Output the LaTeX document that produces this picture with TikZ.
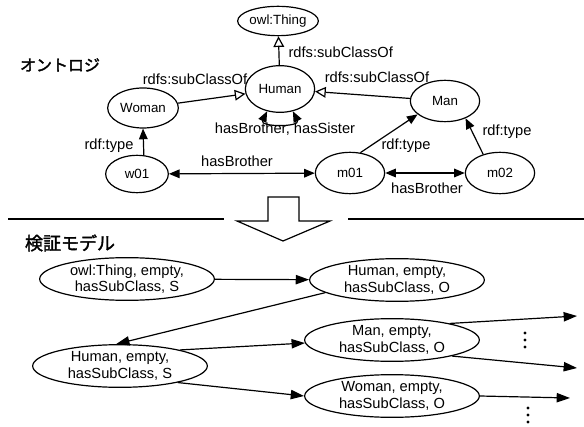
\documentclass[tikz,border=0pt]{standalone}
\usepackage{fontspec}
\setmainfont{Liberation Sans}
\newfontfamily\jpfont[AutoFakeBold=2]{Noto Sans CJK JP}
\usetikzlibrary{arrows.meta,shapes.geometric}
\tikzset{
  cls/.style={ellipse, draw, line width=0.9pt, inner sep=0pt, font=\fontsize{10}{12}\selectfont},
  state/.style={ellipse, draw, line width=0.9pt, inner sep=0pt, minimum width=131pt, minimum height=32pt,
    align=center, font=\fontsize{11}{12.5}\selectfont},
  lbl/.style={inner sep=1pt, font=\fontsize{11}{13}\selectfont},
  title/.style={inner sep=0pt, font=\jpfont\bfseries\fontsize{12}{14}\selectfont},
  sub/.style={line width=0.9pt, -{Triangle[fill=white, length=8pt, width=8pt]}},
  rel/.style={line width=0.9pt, -{Triangle[length=8pt, width=6.5pt]}},
  relb/.style={line width=0.9pt, {Triangle[length=8pt, width=6.5pt]}-{Triangle[length=8pt, width=6.5pt]}},
  trans/.style={line width=0.9pt, -{Triangle[length=10pt, width=7pt]}}
}

\begin{document}
\begin{tikzpicture}[x=0.75pt, y=-0.75pt]
  \useasboundingbox (0,0) rectangle (584,427);
  % ontology
  \node[title] (onto) at (60,65) {オントロジ};
  \node[cls, minimum width=57pt, minimum height=22pt] (thing) at (278,21) {owl:Thing};
  \node[cls, minimum width=52pt, minimum height=35pt] (human) at (280,89) {Human};
  \node[cls, minimum width=53pt, minimum height=30pt] (woman) at (143,108) {Woman};
  \node[cls, minimum width=52pt, minimum height=31pt] (man) at (445,101) {Man};
  \node[cls, minimum width=47pt, minimum height=28pt] (w01) at (137,174) {w01};
  \node[cls, minimum width=52pt, minimum height=31pt] (m01) at (350,173) {m01};
  \node[cls, minimum width=52pt, minimum height=31pt] (m02) at (500,173) {m02};

  \draw[sub] (human) -- (thing);
  \draw[sub] (woman) -- (human);
  \draw[sub] (man) -- (human);
  \draw[relb] (human.240) .. controls +(-8,16) and +(8,16) .. (human.300);
  \draw[rel] (w01.70) -- (woman.south);
  \draw[relb] (w01) -- (m01);
  \draw[rel] (m01.63) -- (man.206);
  \draw[rel] (m02.132) -- (man.320);
  \draw[relb] (m01) -- (m02);

  \node[lbl, anchor=west] (lblThing) at (287,52) {rdfs:subClassOf};
  \node[lbl] (lblWoman) at (195,79) {rdfs:subClassOf};
  \node[lbl] (lblMan) at (377,77) {rdfs:subClassOf};
  \node[lbl] (lblLoop) at (285,129) {hasBrother, hasSister};
  \node[lbl] (lblW01) at (109,146) {rdf:type};
  \node[lbl] (lblBroA) at (237,161) {hasBrother};
  \node[lbl] (lblM01) at (406,146) {rdf:type};
  \node[lbl] (lblM02) at (507,132) {rdf:type};
  \node[lbl] (lblBroB) at (427,188) {hasBrother};

  % separator and hollow arrow
  \draw[line width=0.9pt] (8,219) -- (224,219);
  \draw[line width=0.9pt] (348,219) -- (584,219);
  \draw[line width=0.9pt, line join=miter] (268,197) -- (299,197) -- (299,221) -- (330,221)
    -- (283,241) -- (237,221) -- (268,221) -- cycle;

  % model
  \node[title, font=\jpfont\bfseries\fontsize{13.5}{15}\selectfont] (model) at (70,243) {検証モデル};
  \node[state] (sThing) at (127,279) {owl:Thing, empty,\\hasSubClass, S};
  \node[state] (sHuman) at (397,280) {Human, empty,\\hasSubClass, O};
  \node[state] (sHumanS) at (120,366) {Human, empty,\\hasSubClass, S};
  \node[state] (sMan) at (392,340) {Man, empty,\\hasSubClass, O};
  \node[state] (sWoman) at (392,396) {Woman, empty,\\hasSubClass, O};

  \coordinate (outA) at (577,316);
  \coordinate (outB) at (577,368);
  \coordinate (outC) at (570,398);

  \draw[trans] (sThing) -- (sHuman);
  \draw[trans] (sHuman.190) -- (sHumanS.100);
  \draw[trans] (sHumanS.15) -- (sMan.182);
  \draw[trans] (sHumanS.344) -- (sWoman.west);
  \draw[trans] (sMan.16) -- (outA);
  \draw[trans] (sMan.345) -- (outB);
  \draw[trans] (sWoman.east) -- (outC);

  % vertical dots
  \foreach \y in {333,340,347} \fill (525,\y) circle (1.2pt);
  \foreach \y in {408,415,422} \fill (528,\y) circle (1.2pt);
\end{tikzpicture}
\end{document}
